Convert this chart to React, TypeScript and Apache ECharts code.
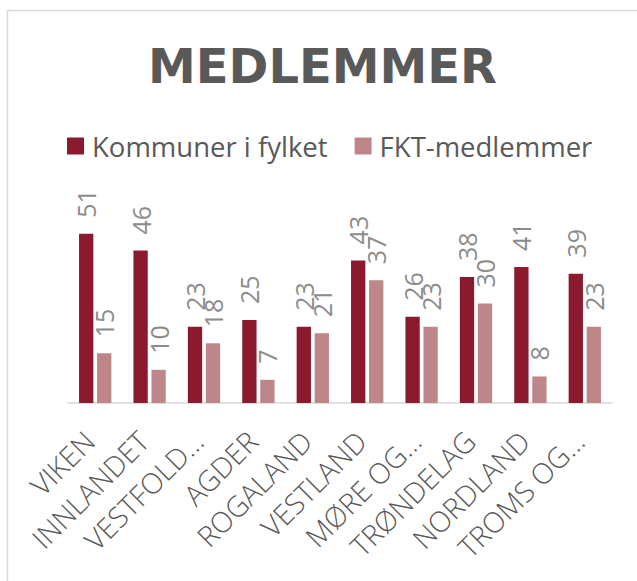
import React, { useEffect, useRef } from "react";
import * as echarts from "echarts";

const categories = [
  "VIKEN",
  "INNLANDET",
  "VESTFOLD…",
  "AGDER",
  "ROGALAND",
  "VESTLAND",
  "MØRE OG…",
  "TRØNDELAG",
  "NORDLAND",
  "TROMS OG…",
];
const kommuner = [51, 46, 23, 25, 23, 43, 26, 38, 41, 39];
const fktMedlemmer = [15, 10, 18, 7, 21, 37, 23, 30, 8, 23];
const seriesNames = ["Kommuner i fylket", "FKT-medlemmer"];
const titleText = "MEDLEMMER";

const FONT = "'Open Sans', 'Noto Sans', sans-serif";
const WIDE = "'DejaVu Sans', 'Open Sans', sans-serif";

export default function App() {
  const ref = useRef<HTMLDivElement>(null);
  useEffect(() => {
    if (!ref.current) return;
    const chart = echarts.init(ref.current, undefined, { renderer: "svg" });
    const barLabel = {
      show: true,
      position: "top",
      distance: 16,
      rotate: 90,
      align: "left",
      verticalAlign: "middle",
      color: "#8c8c8c",
      fontSize: 25,
      fontFamily: FONT,
    };
    chart.setOption({
      animation: false,
      backgroundColor: "#ffffff",
      title: {
        text: titleText,
        left: 148,
        top: 42,
        padding: 0,
        textStyle: {
          fontFamily: WIDE,
          fontWeight: "bold",
          fontSize: 48,
          color: "#595959",
        },
      },
      legend: {
        left: 67,
        top: 132,
        padding: 0,
        itemWidth: 17,
        itemHeight: 17,
        itemGap: 27,
        icon: "rect",
        textStyle: {
          fontFamily: FONT,
          fontSize: 27.5,
          color: "#595959",
          padding: [0, 0, 0, 3],
        },
        data: seriesNames,
      },
      graphic: [
        {
          type: "rect",
          silent: true,
          z: -10,
          shape: { x: 7.5, y: 10.5, width: 1000, height: 1000 },
          style: { fill: "none", stroke: "#d9d9d9", lineWidth: 1.5 },
        },
      ],
      grid: { left: 68, right: 25, top: 204, bottom: 178, containLabel: false },
      xAxis: {
        type: "category",
        data: categories,
        axisLine: { lineStyle: { color: "#d9d9d9", width: 1.5 } },
        axisTick: { show: false },
        axisLabel: {
          interval: 0,
          rotate: 45,
          margin: 27,
          padding: [0, 8.5, 0, 0],
          fontFamily: FONT,
          fontWeight: 300,
          fontSize: 28.5,
          color: "#595959",
        },
      },
      yAxis: {
        type: "value",
        min: 0,
        max: 60,
        show: false,
        splitLine: { show: false },
      },
      series: [
        {
          name: seriesNames[0],
          type: "bar",
          data: kommuner,
          barWidth: 14.3,
          barGap: "26%",
          itemStyle: { color: "#8c1a2f" },
          label: barLabel,
        },
        {
          name: seriesNames[1],
          type: "bar",
          data: fktMedlemmer,
          barWidth: 14.3,
          itemStyle: { color: "#bd8689" },
          label: barLabel,
        },
      ],
    });
    return () => chart.dispose();
  }, []);
  return (
    <div
      ref={ref}
      style={{ position: "absolute", left: 0, top: 0, width: 637, height: 581 }}
    />
  );
}
